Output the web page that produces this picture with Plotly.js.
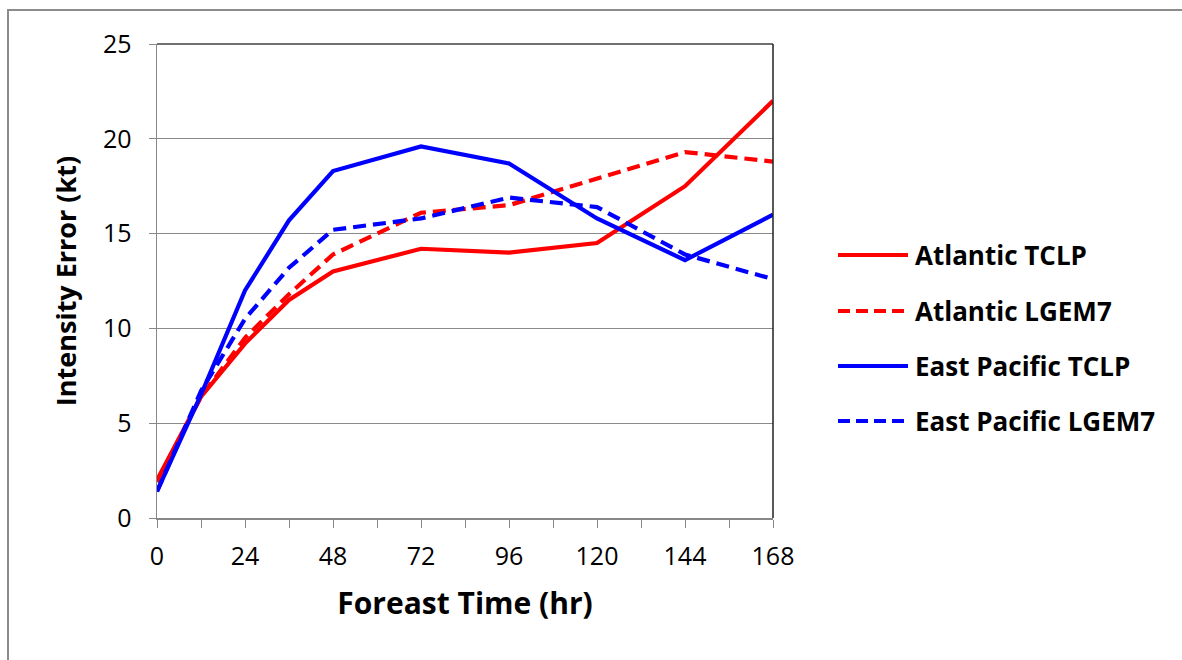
<!DOCTYPE html>
<html>
<head>
<meta charset="utf-8">
<script src="https://cdn.plot.ly/plotly-3.0.1.min.js"></script>
<style>html,body{margin:0;padding:0;background:#fff;}#chart{width:1182px;height:660px;}</style>
</head>
<body>
<div id="chart"></div>
<script>
// Forecast hours
const forecastHours = [0, 12, 24, 36, 48, 72, 96, 120, 144, 168];
// Series values (kt)
const atlanticTCLP     = [2.0, 6.4, 9.2, 11.5, 13.0, 14.2, 14.0, 14.5, 17.5, 22.0];
const atlanticLGEM7    = [1.9, 6.4, 9.5, 11.8, 13.9, 16.1, 16.5, 17.9, 19.3, 18.8];
const eastPacTCLP      = [1.4, 6.5, 12.0, 15.7, 18.3, 19.6, 18.7, 15.8, 13.6, 16.0];
const eastPacLGEM7     = [1.4, 6.7, 10.5, 13.2, 15.2, 15.8, 16.9, 16.4, 13.9, 12.6];
const seriesNames = ["Atlantic TCLP", "Atlantic LGEM7", "East Pacific TCLP", "East Pacific LGEM7"];
const xTickLabels = ["0", "24", "48", "72", "96", "120", "144", "168"];
const xTickValues = [0, 24, 48, 72, 96, 120, 144, 168];

const seriesValues = [atlanticTCLP, atlanticLGEM7, eastPacTCLP, eastPacLGEM7];
const colors = ["#ff0000", "#ff0000", "#0000ff", "#0000ff"];
const dashes = ["solid", "13px,7px", "solid", "13px,7px"];

const traces = seriesValues.map((v, i) => ({
  x: forecastHours, y: v, type: "scatter", mode: "lines", name: seriesNames[i],
  line: {color: colors[i], width: 4.2, dash: dashes[i]}, showlegend: false, hoverinfo: "x+y+name"
}));

// plot area pixels: x 157..773, y 44..518
const W = 616, H = 474;
const px = (p) => (p - 157) / W;
const py = (p) => (518 - p) / H;

const shapes = [
  // outer frame
  {type: "rect", xref: "paper", yref: "paper", x0: px(8), x1: px(1195), y0: py(10), y1: py(675),
   line: {color: "#8c8c8c", width: 2}, fillcolor: "rgba(0,0,0,0)", layer: "below"},
  // top and right plot border
  {type: "line", xref: "paper", yref: "paper", x0: 0, x1: 1, y0: 1, y1: 1, line: {color: "#404040", width: 1.5}},
  {type: "line", xref: "paper", yref: "paper", x0: 1, x1: 1, y0: 0, y1: 1, line: {color: "#202020", width: 1.5}}
];
const annotations = [];
const legendY = [255, 311, 366, 421];
seriesNames.forEach((n, i) => {
  shapes.push({type: "line", xref: "paper", yref: "paper", x0: px(838), x1: px(908), y0: py(legendY[i]), y1: py(legendY[i]),
    line: {color: colors[i], width: 4, dash: dashes[i] === "solid" ? "solid" : "12px,6px"}});
  annotations.push({xref: "paper", yref: "paper", x: px(913), y: py(legendY[i]), xanchor: "left", yanchor: "middle",
    text: "<b>" + n + "</b>", showarrow: false, font: {family: "Open Sans, sans-serif", size: 26, color: "#000"}});
});

const layout = {
  width: 1182, height: 660,
  margin: {l: 157, r: 409, t: 44, b: 142},
  paper_bgcolor: "#ffffff", plot_bgcolor: "#ffffff",
  font: {family: "Open Sans, sans-serif", color: "#000"},
  showlegend: false,
  xaxis: {
    range: [0, 168], tickvals: xTickValues, ticktext: xTickLabels,
    ticks: "outside", ticklen: 8, tickcolor: "#888", tickwidth: 1,
    minor: {tickvals: [12, 36, 60, 84, 108, 132, 156], ticks: "outside", ticklen: 8, tickcolor: "#888", showgrid: false},
    showline: true, linecolor: "#888", linewidth: 1.5, showgrid: false, zeroline: false,
    tickfont: {size: 25, color: "#000"}, ticklabelstandoff: 7,
    title: {text: "<b>Foreast Time (hr)</b>", font: {size: 30, color: "#000"}, standoff: 22}
  },
  yaxis: {
    range: [0, 25], dtick: 5, tick0: 0,
    ticks: "outside", ticklen: 7, tickcolor: "#888", tickwidth: 1,
    showline: true, linecolor: "#888", linewidth: 1.5,
    showgrid: true, gridcolor: "#8a8a8a", gridwidth: 1, zeroline: false,
    tickfont: {size: 25, color: "#000"}, ticklabelstandoff: 12,
    title: {text: "<b>Intensity Error (kt)</b>", font: {size: 27, color: "#000"}, standoff: 18}
  },
  shapes: shapes,
  annotations: annotations
};

Plotly.newPlot("chart", traces, layout, {displayModeBar: false, staticPlot: true});
</script>
</body>
</html>
